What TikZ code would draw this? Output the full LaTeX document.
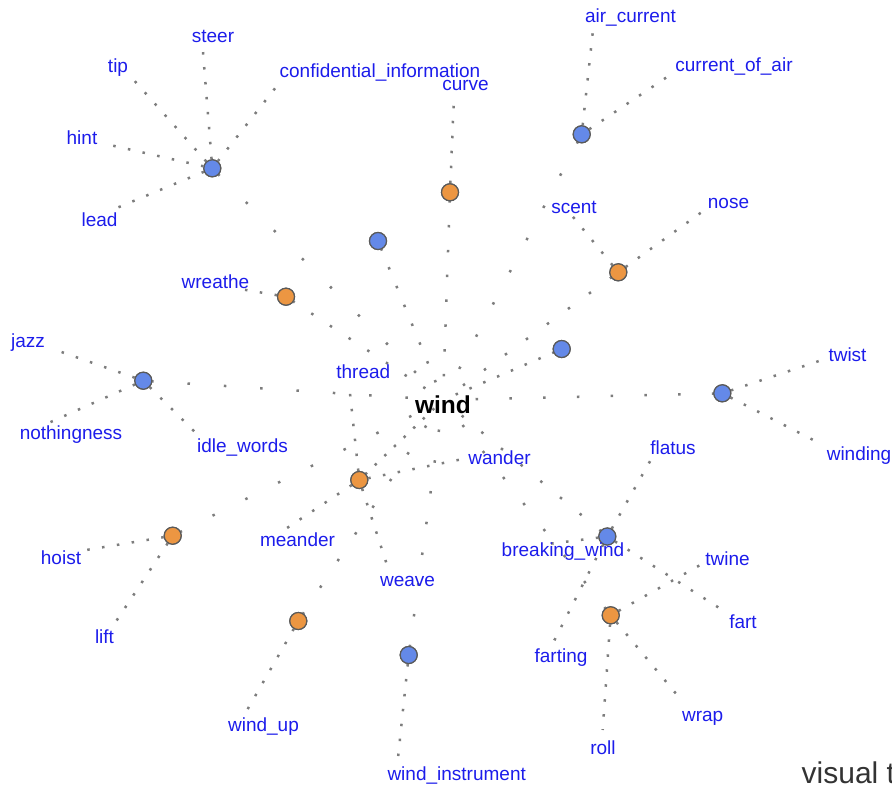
\documentclass[tikz,border=0pt]{standalone}
\usepackage{fontspec}
\setmainfont{Liberation Sans}
\usetikzlibrary{decorations.markings}
\definecolor{lblblue}{RGB}{28,28,235}
\definecolor{dotc}{RGB}{125,125,125}
\definecolor{nblue}{RGB}{100,137,232}
\definecolor{norange}{RGB}{236,150,66}
\definecolor{nline}{RGB}{90,90,90}
\definecolor{wmark}{RGB}{51,51,51}
\begin{document}
\begin{tikzpicture}[x=1pt,y=-1pt,
  sense/.style={circle,minimum size=17pt,inner sep=0pt,draw=nline,line width=1.2pt},
  nounc/.style={sense,fill=nblue},
  verbc/.style={sense,fill=norange},
  lbl/.style={anchor=base,inner sep=0pt,text=lblblue,font=\fontsize{19}{19}\selectfont},
  hub/.style={anchor=base,inner sep=0pt,text=black,font=\fontsize{24.5}{24.5}\selectfont\bfseries},
  leafedge/.style={draw=dotc,line width=2.5pt,dash pattern=on 2.5pt off 12.5pt},
  mainedge/.style={decoration={markings,mark=between positions 0.125 and 1 step 0.125 with {\fill[dotc] (-1.25pt,-1.25pt) rectangle (1.25pt,1.25pt);}},decorate}
]
\useasboundingbox (0,0) rectangle (892,785);

% hub
\coordinate (wc) at (443,400);

% sense nodes
\node[nounc]  (b1)       at (212.3,168.3) {};
\node[verbc]  (ocurve)   at (450,192.3) {};
\node[nounc]  (b2)       at (581.7,134.3) {};
\node[nounc]  (b3)       at (378,241) {};
\node[verbc]  (oscent)   at (618.3,272.3) {};
\node[verbc]  (owreathe) at (286,296.7) {};
\node[nounc]  (bmid)     at (561.7,349) {};
\node[nounc]  (bjazz)    at (143.3,380.7) {};
\node[nounc]  (btwist)   at (722.3,393.3) {};
\node[verbc]  (othread)  at (359.3,480) {};
\node[verbc]  (ohoist)   at (172.7,535.7) {};
\node[nounc]  (bfart)    at (607.3,536.5) {};
\node[verbc]  (owindup)  at (298.3,621) {};
\node[nounc]  (binstr)   at (408.7,655) {};
\node[verbc]  (owrap)    at (610.7,615.3) {};

% leaf ends
\coordinate (e-steer) at (203,52);
\coordinate (e-tip) at (132,78);
\coordinate (e-conf) at (280,82);
\coordinate (e-hint) at (110,145);
\coordinate (e-lead) at (107,212);
\coordinate (e-curve) at (454,96);
\coordinate (e-aircur) at (593,30);
\coordinate (e-curair) at (673,73);
\coordinate (e-scent) at (569,212);
\coordinate (e-nose) at (706,209);
\coordinate (e-wreathe) at (240,289);
\coordinate (e-jazz) at (53,349);
\coordinate (e-nothing) at (44,425);
\coordinate (e-idle) at (199,436);
\coordinate (e-thread) at (349,384);
\coordinate (e-wander) at (463,459);
\coordinate (e-meander) at (281,532);
\coordinate (e-weave) at (388,568);
\coordinate (e-twist) at (825,359);
\coordinate (e-winding) at (823,445);
\coordinate (e-flatus) at (653,456);
\coordinate (e-breaking) at (548,544);
\coordinate (e-fart) at (724,611);
\coordinate (e-farting) at (554,641);
\coordinate (e-hoist) at (80,551);
\coordinate (e-lift) at (115,623);
\coordinate (e-windup) at (246,712);
\coordinate (e-instr) at (398,758);
\coordinate (e-twine) at (702,564);
\coordinate (e-wrap) at (683,702);
\coordinate (e-roll) at (602.7,730);

% main edges
\foreach \n in {b1,ocurve,b2,b3,oscent,owreathe,bmid,bjazz,btwist,othread,ohoist,bfart,owindup,binstr,owrap}
  \path[mainedge] (wc) -- (\n);

% leaf edges
\foreach \s/\e in {b1/e-steer,b1/e-tip,b1/e-conf,b1/e-hint,b1/e-lead,
  ocurve/e-curve,b2/e-aircur,b2/e-curair,oscent/e-scent,oscent/e-nose,
  owreathe/e-wreathe,bjazz/e-jazz,bjazz/e-nothing,bjazz/e-idle,
  othread/e-thread,othread/e-wander,othread/e-meander,othread/e-weave,
  btwist/e-twist,btwist/e-winding,bfart/e-flatus,bfart/e-breaking,bfart/e-fart,bfart/e-farting,
  ohoist/e-hoist,ohoist/e-lift,owindup/e-windup,binstr/e-instr,
  owrap/e-twine,owrap/e-wrap,owrap/e-roll}
  \draw[leafedge] (\s) -- (\e);

% redraw sense nodes on top
\foreach \n/\st/\x/\y in {b1/nounc/212.3/168.3,ocurve/verbc/450/192.3,b2/nounc/581.7/134.3,b3/nounc/378/241,
  oscent/verbc/618.3/272.3,owreathe/verbc/286/296.7,bmid/nounc/561.7/349,bjazz/nounc/143.3/380.7,
  btwist/nounc/722.3/393.3,othread/verbc/359.3/480,ohoist/verbc/172.7/535.7,bfart/nounc/607.3/536.5,
  owindup/verbc/298.3/621,binstr/nounc/408.7/655,owrap/verbc/610.7/615.3}
  \node[\st] at (\x,\y) {};

% hub label
\node[hub] (wind) at (443,413.3) {wind};

% labels
\node[lbl] (steer) at (213,42) {steer};
\node[lbl] (tip) at (118,72.7) {tip};
\node[lbl] (conf) at (380,77.5) {confidential\_information};
\node[lbl] (hint) at (82,144) {hint};
\node[lbl] (lead) at (99.5,226.7) {lead};
\node[lbl] (curve) at (465.5,90.7) {curve};
\node[lbl] (aircur) at (630.5,22.5) {air\_current};
\node[lbl] (curair) at (734,71) {current\_of\_air};
\node[lbl] (scent) at (574,213) {scent};
\node[lbl] (nose) at (728.5,208.3) {nose};
\node[lbl] (wreathe) at (215.5,288.3) {wreathe};
\node[lbl] (jazz) at (28,347) {jazz};
\node[lbl] (nothing) at (71,439) {nothingness};
\node[lbl] (idle) at (242.5,452.5) {idle\_words};
\node[lbl] (thread) at (363.3,378.3) {thread};
\node[lbl] (wander) at (499.5,464) {wander};
\node[lbl] (meander) at (297.5,546) {meander};
\node[lbl] (weave) at (407.5,586.5) {weave};
\node[lbl] (twist) at (847.5,361.5) {twist};
\node[lbl] (winding) at (859,460) {winding};
\node[lbl] (flatus) at (673,454.3) {flatus};
\node[lbl] (breaking) at (563,556) {breaking\_wind};
\node[lbl] (fart) at (743,628.3) {fart};
\node[lbl] (farting) at (561,662.5) {farting};
\node[lbl] (hoist) at (61,564) {hoist};
\node[lbl] (lift) at (104.5,643.3) {lift};
\node[lbl] (windup) at (263.5,731) {wind\_up};
\node[lbl] (instr) at (456.7,780) {wind\_instrument};
\node[lbl] (twine) at (727.5,565) {twine};
\node[lbl] (wrap) at (702.7,721.5) {wrap};
\node[lbl] (roll) at (603,754) {roll};

% watermark, clipped at the picture edge
\begin{scope}
  \clip (0,0) rectangle (892,785);
  \node[anchor=base west,inner sep=0pt,text=wmark,font=\fontsize{30}{30}\selectfont] (vt) at (801.5,783.5) {visual t};
\end{scope}
\end{tikzpicture}
\end{document}
